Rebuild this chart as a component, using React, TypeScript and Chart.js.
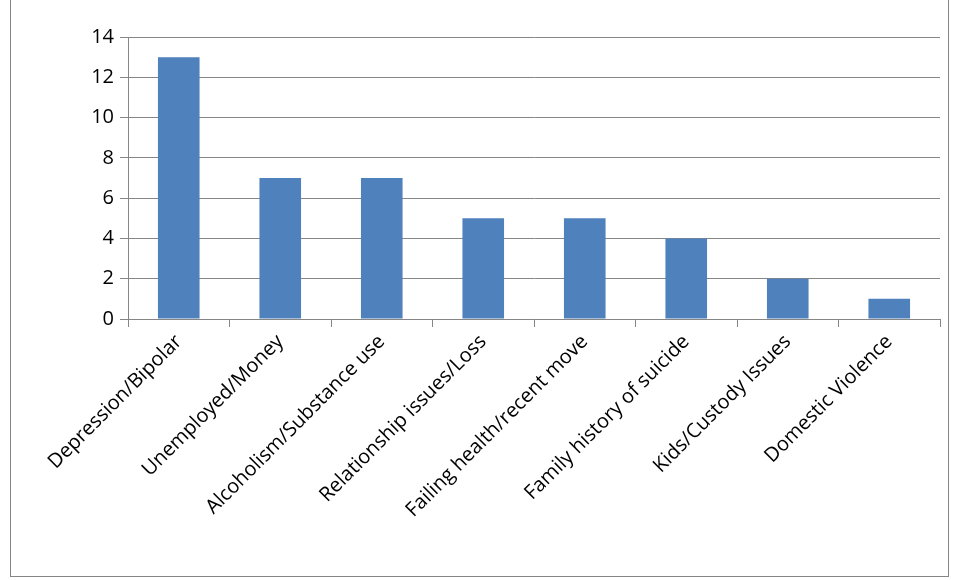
import { useEffect, useRef } from "react";
import { Chart, registerables } from "chart.js";

Chart.register(...registerables);

const categories = [
  "Depression/Bipolar",
  "Unemployed/Money",
  "Alcoholism/Substance use",
  "Relationship issues/Loss",
  "Failing health/recent move",
  "Family history of suicide",
  "Kids/Custody Issues",
  "Domestic Violence",
];
const counts = [13, 7, 7, 5, 5, 4, 2, 1];

export default function App() {
  const canvasRef = useRef<HTMLCanvasElement>(null);

  useEffect(() => {
    if (!canvasRef.current) return;
    const chart = new Chart(canvasRef.current, {
      type: "bar",
      data: {
        labels: categories,
        datasets: [
          {
            data: counts,
            backgroundColor: "#4F81BD",
            categoryPercentage: 1,
            barPercentage: 0.41,
          },
        ],
      },
      options: {
        animation: false,
        responsive: false,
        layout: { padding: { top: 37, right: 18, left: 0, bottom: 0 } },
        plugins: { legend: { display: false }, tooltip: { enabled: false } },
        scales: {
          x: {
            afterFit: (s: any) => {
              s.height = 261;
            },
            grid: {
              offset: true,
              drawOnChartArea: false,
              color: "#868686",
              tickLength: 8,
            },
            border: { color: "#868686" },
            ticks: {
              minRotation: 45,
              maxRotation: 45,
              color: "#000",
              font: { family: "Open Sans", size: 20 },
            },
          },
          y: {
            min: 0,
            max: 14,
            afterFit: (s: any) => {
              s.width = 128;
            },
            grid: { color: "#868686", tickLength: 8 },
            border: { color: "#868686" },
            ticks: {
              stepSize: 2,
              color: "#000",
              padding: 6,
              font: { family: "Open Sans", size: 20 },
            },
          },
        },
      },
    });
    return () => chart.destroy();
  }, []);

  return (
    <div style={{ position: "fixed", left: 0, top: 0, width: 958, height: 580, background: "#fff" }}>
      <canvas ref={canvasRef} width={958} height={580} style={{ position: "absolute", left: 0, top: 0 }} />
      <div
        style={{
          position: "absolute",
          left: 10,
          top: -1,
          width: 937,
          height: 576,
          border: "1px solid #868686",
          pointerEvents: "none",
        }}
      />
    </div>
  );
}
